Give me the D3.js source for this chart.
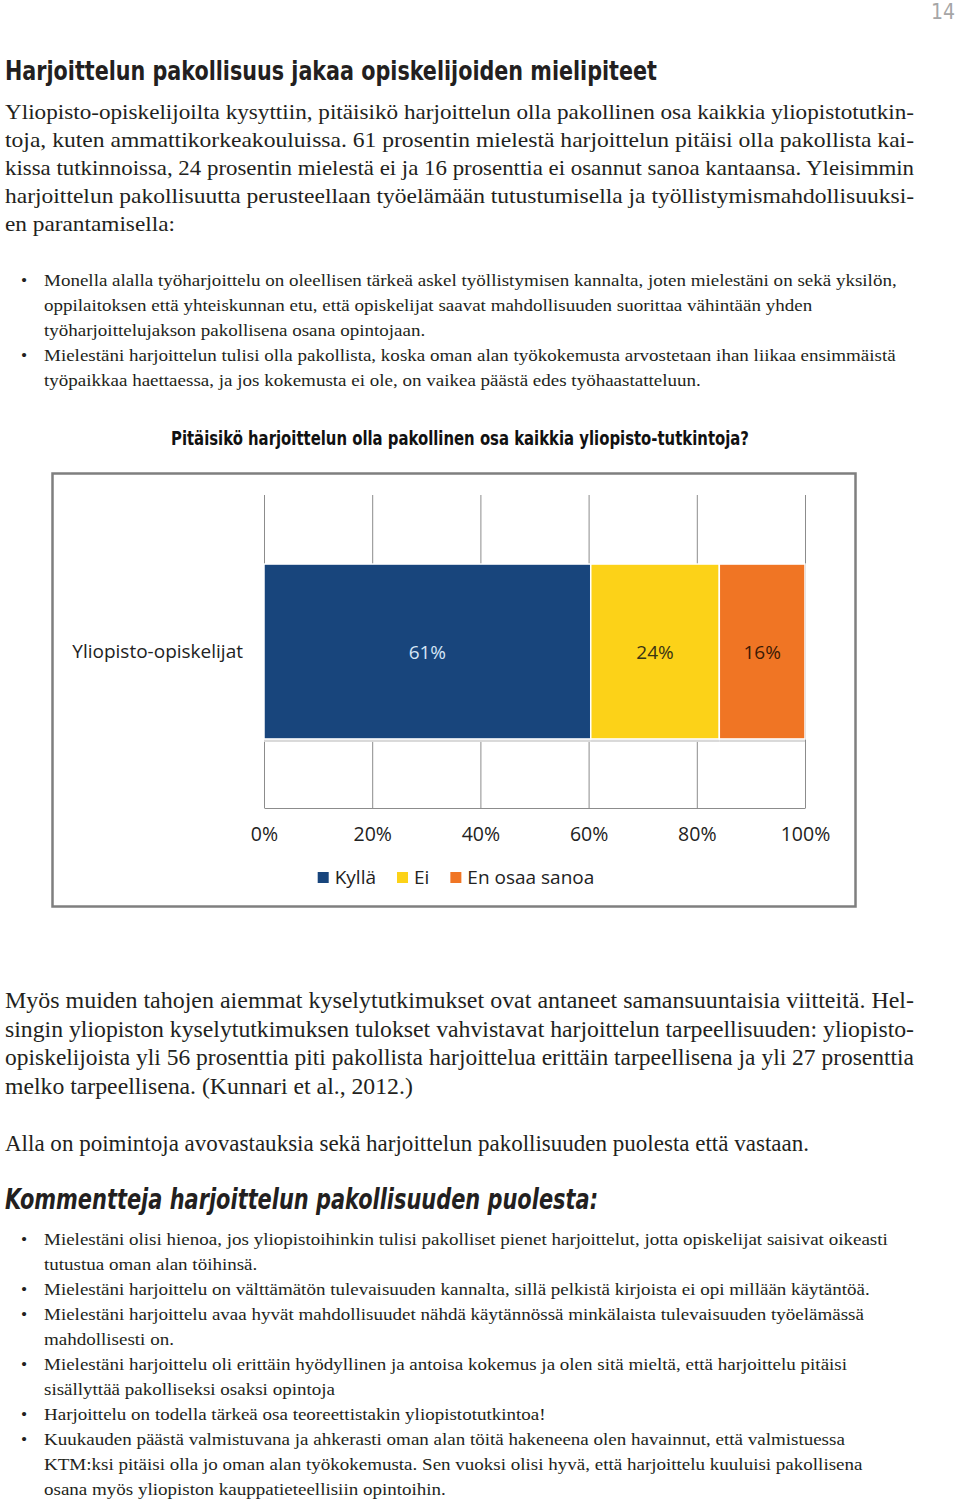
<!DOCTYPE html>
<html>
<head>
<meta charset="utf-8">
<script src="https://cdn.jsdelivr.net/npm/d3@7"></script>
<style>
  body { margin: 0; background: #fff; }
  svg { display: block; }
</style>
</head>
<body>
<svg id="page"></svg>
<script>
// ---- data ----
const pageNumber = "14";
const heading = "Harjoittelun pakollisuus jakaa opiskelijoiden mielipiteet";
const introLines = [
  "Yliopisto-opiskelijoilta kysyttiin, pitäisikö harjoittelun olla pakollinen osa kaikkia yliopistotutkin-",
  "toja, kuten ammattikorkeakouluissa.  61 prosentin mielestä harjoittelun pitäisi olla pakollista kai-",
  "kissa tutkinnoissa, 24 prosentin mielestä ei ja 16 prosenttia ei osannut sanoa kantaansa. Yleisimmin",
  "harjoittelun pakollisuutta perusteellaan työelämään tutustumisella ja työllistymismahdollisuuksi-",
  "en parantamisella:"
];
const introBullets = [
  ["Monella alalla työharjoittelu on oleellisen tärkeä askel työllistymisen kannalta, joten mielestäni on sekä yksilön,",
   "oppilaitoksen että yhteiskunnan etu, että opiskelijat saavat mahdollisuuden suorittaa vähintään yhden",
   "työharjoittelujakson pakollisena osana opintojaan."],
  ["Mielestäni harjoittelun tulisi olla pakollista, koska oman alan työkokemusta arvostetaan ihan liikaa ensimmäistä",
   "työpaikkaa haettaessa, ja jos kokemusta ei ole, on vaikea päästä edes työhaastatteluun."]
];
const chartTitle = "Pitäisikö harjoittelun olla pakollinen osa kaikkia yliopisto-tutkintoja?";
const categories = ["Yliopisto-opiskelijat"];
const seriesNames = ["Kyllä", "Ei", "En osaa sanoa"];
const seriesValues = [[61, 24, 16]];
const tickValues = [0, 0.2, 0.4, 0.6, 0.8, 1];
const outroLines = [
  "Myös muiden tahojen aiemmat kyselytutkimukset ovat antaneet samansuuntaisia viitteitä. Hel-",
  "singin yliopiston kyselytutkimuksen tulokset vahvistavat harjoittelun tarpeellisuuden: yliopisto-",
  "opiskelijoista yli 56 prosenttia piti pakollista harjoittelua erittäin tarpeellisena ja yli 27 prosenttia",
  "melko tarpeellisena. (Kunnari et al., 2012.)"
];
const noteLine = "Alla on poimintoja avovastauksia sekä harjoittelun pakollisuuden puolesta että vastaan.";
const commentHeading = "Kommentteja harjoittelun pakollisuuden puolesta:";
const comments = [
  ["Mielestäni olisi hienoa, jos yliopistoihinkin tulisi pakolliset pienet harjoittelut, jotta opiskelijat saisivat oikeasti",
   "tutustua oman alan töihinsä."],
  ["Mielestäni harjoittelu on välttämätön tulevaisuuden kannalta, sillä pelkistä kirjoista ei opi millään käytäntöä."],
  ["Mielestäni harjoittelu avaa hyvät mahdollisuudet nähdä käytännössä minkälaista tulevaisuuden työelämässä",
   "mahdollisesti on."],
  ["Mielestäni harjoittelu oli erittäin hyödyllinen ja antoisa kokemus ja olen sitä mieltä, että harjoittelu pitäisi",
   "sisällyttää pakolliseksi osaksi opintoja"],
  ["Harjoittelu on todella tärkeä osa teoreettistakin yliopistotutkintoa!"],
  ["Kuukauden päästä valmistuvana ja ahkerasti oman alan töitä hakeneena olen havainnut, että valmistuessa",
   "KTM:ksi pitäisi olla jo oman alan työkokemusta. Sen vuoksi olisi hyvä, että harjoittelu kuuluisi pakollisena",
   "osana myös yliopiston kauppatieteellisiin opintoihin."]
];

// ---- styles ----
const seriesColors = { "Kyllä": "#18457c", "Ei": "#fcd218", "En osaa sanoa": "#f07524" };
const labelColors = { "Kyllä": "#d6e6f6", "Ei": "#3a3414", "En osaa sanoa": "#3b1a04" };
const ink = "#231f20";
const serif = "'Liberation Serif', 'DejaVu Serif', serif";
const narrow = "'Liberation Sans Narrow', 'DejaVu Sans Condensed', 'Liberation Sans', sans-serif";
const chartFont = "'Open Sans', 'Noto Sans', sans-serif";

const width = 960;
const height = 1505;
const textLeft = 5;
const textWidth = 909;

const svg = d3.select("svg#page")
  .attr("width", width)
  .attr("height", height)
  .attr("viewBox", [0, 0, width, height]);

// justified paragraph: every line but the last is stretched to the column
function drawParagraph(lines, y0, lineHeight, size) {
  const g = svg.append("g")
    .attr("font-family", serif)
    .attr("font-size", size)
    .attr("fill", ink);
  let ratios = [];
  lines.forEach((t, i) => {
    const txt = g.append("text")
      .attr("x", textLeft)
      .attr("y", y0 + i * lineHeight)
      .text(t);
    const w = txt.node().getComputedTextLength();
    if (i < lines.length - 1) {
      ratios.push(textWidth / w);
      txt.attr("textLength", textWidth).attr("lengthAdjust", "spacingAndGlyphs");
    } else {
      txt.attr("data-w", w);
    }
  });
  const k = d3.mean(ratios) || 1;
  const last = g.select("text:last-child");
  last.attr("textLength", +last.attr("data-w") * k).attr("lengthAdjust", "spacingAndGlyphs");
  return k;
}

function drawSingle(t, y, size, k) {
  const txt = svg.append("text")
    .attr("x", textLeft)
    .attr("y", y)
    .attr("font-family", serif)
    .attr("font-size", size)
    .attr("fill", ink)
    .text(t);
  const w = txt.node().getComputedTextLength();
  txt.attr("textLength", w * k).attr("lengthAdjust", "spacingAndGlyphs");
}

function drawBullets(items, y0, lineHeight, size, k) {
  const g = svg.append("g")
    .attr("font-family", serif)
    .attr("font-size", size)
    .attr("fill", ink);
  let row = 0;
  items.forEach(item => {
    g.append("text")
      .attr("x", 21)
      .attr("y", y0 + row * lineHeight)
      .text("•");
    item.forEach(line => {
      const txt = g.append("text")
        .attr("x", 44)
        .attr("y", y0 + row * lineHeight)
        .text(line);
      const w = txt.node().getComputedTextLength();
      txt.attr("textLength", w * k).attr("lengthAdjust", "spacingAndGlyphs");
      row += 1;
    });
  });
}

// page number
svg.append("text")
  .attr("x", 955)
  .attr("y", 19)
  .attr("text-anchor", "end")
  .attr("font-family", narrow)
  .attr("font-size", 21)
  .attr("fill", "#a6a6a6")
  .text(pageNumber);

// heading
svg.append("text")
  .attr("x", textLeft)
  .attr("y", 80)
  .attr("font-family", narrow)
  .attr("font-weight", "bold")
  .attr("font-size", 27)
  .attr("fill", ink)
  .attr("textLength", 652)
  .attr("lengthAdjust", "spacingAndGlyphs")
  .text(heading);

const kIntro = drawParagraph(introLines, 119, 28, 21);
drawBullets(introBullets, 286, 25, 17.5, kIntro * 0.98);

// ---- chart ----
svg.append("text")
  .attr("x", 460)
  .attr("y", 445)
  .attr("text-anchor", "middle")
  .attr("font-family", narrow)
  .attr("font-weight", "bold")
  .attr("font-size", 19.5)
  .attr("fill", "#111")
  .attr("textLength", 578)
  .attr("lengthAdjust", "spacingAndGlyphs")
  .text(chartTitle);

svg.append("rect")
  .attr("x", 52.5)
  .attr("y", 473.5)
  .attr("width", 803)
  .attr("height", 433)
  .attr("fill", "#fff")
  .attr("stroke", "#7f7f7f")
  .attr("stroke-width", 2.5);

const plotLeft = 264;
const plotRight = 805;
const plotTop = 495;
const plotBottom = 808;

const x = d3.scaleLinear([0, 1], [plotLeft, plotRight]);
const y = d3.scaleBand(categories, [plotTop, plotBottom]).padding(0.283);

const table = categories.map((c, i) => {
  const row = { category: c };
  seriesNames.forEach((s, j) => { row[s] = seriesValues[i][j]; });
  return row;
});
const stacked = d3.stack().keys(seriesNames).offset(d3.stackOffsetExpand)(table);

// x-axis with gridlines
svg.append("g")
  .attr("transform", `translate(0,${plotBottom})`)
  .call(d3.axisBottom(x)
    .tickValues(tickValues)
    .tickFormat(d3.format(".0%"))
    .tickSize(-(plotBottom - plotTop))
    .tickSizeOuter(0)
    .tickPadding(19))
  .call(g => g.select(".domain").attr("stroke", "#8c8c8c"))
  .call(g => g.selectAll(".tick line").attr("stroke", "#8c8c8c"))
  .call(g => g.selectAll(".tick text")
    .attr("font-family", chartFont)
    .attr("font-size", 19.5)
    .attr("fill", "#222"));

// category axis
svg.append("g")
  .attr("transform", `translate(${plotLeft},0)`)
  .call(d3.axisLeft(y).tickSize(0).tickPadding(21))
  .call(g => g.select(".domain").remove())
  .call(g => g.selectAll(".tick text")
    .attr("font-family", chartFont)
    .attr("font-size", 19)
    .attr("fill", "#222"));

// faint shadow below bars
svg.append("g")
  .selectAll("rect")
  .data(stacked)
  .join("rect")
  .attr("x", d => x(d[0][0]))
  .attr("y", d => y(d[0].data.category) + 3)
  .attr("width", d => x(d[0][1]) - x(d[0][0]))
  .attr("height", y.bandwidth())
  .attr("fill", "#d9d9d9");

svg.append("g")
  .selectAll("rect")
  .data(stacked)
  .join("rect")
  .attr("x", d => x(d[0][0]))
  .attr("y", d => y(d[0].data.category))
  .attr("width", d => x(d[0][1]) - x(d[0][0]))
  .attr("height", y.bandwidth())
  .attr("fill", d => seriesColors[d.key])
  .attr("stroke", "#fff")
  .attr("stroke-width", 1.5);

svg.append("g")
  .selectAll("text")
  .data(stacked)
  .join("text")
  .attr("x", d => (x(d[0][0]) + x(d[0][1])) / 2)
  .attr("y", d => y(d[0].data.category) + y.bandwidth() / 2 + 7)
  .attr("text-anchor", "middle")
  .attr("font-family", chartFont)
  .attr("font-size", 19)
  .attr("fill", d => labelColors[d.key])
  .text(d => table[0][d.key] + "%");

// legend, centred in the box
const legend = svg.append("g")
  .attr("font-family", chartFont)
  .attr("font-size", 19)
  .attr("fill", "#222");
let lx = 0;
seriesNames.forEach(s => {
  legend.append("rect")
    .attr("x", lx)
    .attr("y", -5)
    .attr("width", 11)
    .attr("height", 11)
    .attr("fill", seriesColors[s]);
  const t = legend.append("text")
    .attr("x", lx + 17)
    .attr("y", 7)
    .text(s);
  lx += 17 + t.node().getComputedTextLength() + 21;
});
lx -= 21;
legend.attr("transform", `translate(${456 - lx / 2},877)`);

// ---- text after the chart ----
const kOutro = drawParagraph(outroLines, 1008, 28.5, 23);
drawSingle(noteLine, 1151, 23, kOutro * 0.97);

svg.append("text")
  .attr("x", textLeft)
  .attr("y", 1209)
  .attr("font-family", narrow)
  .attr("font-weight", "bold")
  .attr("font-style", "italic")
  .attr("font-size", 28)
  .attr("fill", ink)
  .attr("textLength", 593)
  .attr("lengthAdjust", "spacingAndGlyphs")
  .text(commentHeading);

drawBullets(comments, 1245, 25, 17.5, kIntro * 0.98);
</script>
</body>
</html>
